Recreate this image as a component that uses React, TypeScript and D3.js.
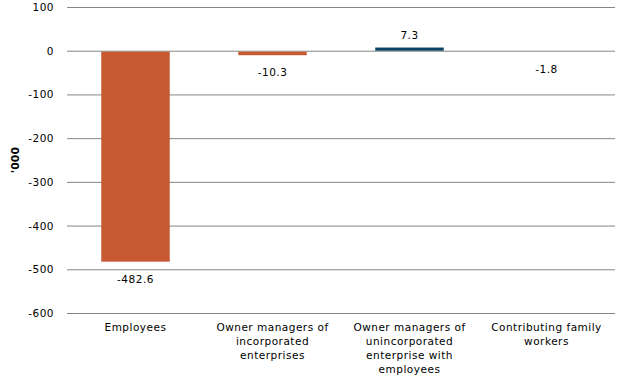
import React from "react";
import * as d3 from "d3";

const categories: string[][] = [
  ["Employees"],
  ["Owner managers of", "incorporated", "enterprises"],
  ["Owner managers of", "unincorporated", "enterprise with", "employees"],
  ["Contributing family", "workers"],
];
const values: number[] = [-482.6, -10.3, 7.3, -1.8];
const yTicks: number[] = [100, 0, -100, -200, -300, -400, -500, -600];

const W = 631;
const H = 379;
const left = 67;
const right = 615;
const top = 7;
const bottom = 313;
const font = "'DejaVu Sans', Verdana, sans-serif";
const ls = 0.5;

export default function App() {
  const x = d3.scaleBand<number>().domain(values.map((_, i) => i)).range([left, right]).paddingInner(0.5).paddingOuter(0.25);
  const y = d3.scaleLinear().domain([-600, 100]).range([bottom, top]);
  return (
    <svg width={W} height={H} style={{ position: "absolute", left: 0, top: 0 }}>
      <rect width={W} height={H} fill="#fff" />
      {yTicks.map((t) => (
        <g key={t}>
          <line x1={left} x2={right} y1={y(t) + 0.5} y2={y(t) + 0.5} stroke="#868686" strokeWidth={1} />
          <text x={54} y={y(t) + 4} textAnchor="end" fontFamily={font} fontSize={10.5} letterSpacing={ls} fill="#000">
            {t}
          </text>
        </g>
      ))}
      {values.map((v, i) => {
        const x0 = x(i)!;
        const y0 = y(Math.max(0, v));
        const y1 = y(Math.min(0, v));
        return (
          <g key={i}>
            <rect x={x0} y={y0 + (v < 0 ? 1 : 0)} width={x.bandwidth()} height={Math.max(0, y1 - y0 - (v < 0 ? 1 : 0))} fill={v >= 0 ? "#0E4466" : "#C85A33"} />
            <text
              x={x0 + x.bandwidth() / 2}
              y={v >= 0 ? y0 - 9 : y1 + 21}
              textAnchor="middle"
              fontFamily={font}
              fontSize={10.5}
              letterSpacing={ls}
              fill="#000"
            >
              {v.toFixed(1)}
            </text>
          </g>
        );
      })}
      {categories.map((lines, i) => (
        <text key={i} x={x(i)! + x.bandwidth() / 2} y={331} textAnchor="middle" fontFamily={font} fontSize={10.5} letterSpacing={ls} fill="#000">
          {lines.map((l, j) => (
            <tspan key={j} x={x(i)! + x.bandwidth() / 2} dy={j === 0 ? 0 : 14}>
              {l}
            </tspan>
          ))}
        </text>
      ))}
      <text
        transform={`translate(19,${(top + bottom) / 2}) rotate(-90)`}
        textAnchor="middle"
        fontFamily={font}
        fontSize={11}
        fontWeight="bold"
        fill="#000"
      >
        '000
      </text>
    </svg>
  );
}
